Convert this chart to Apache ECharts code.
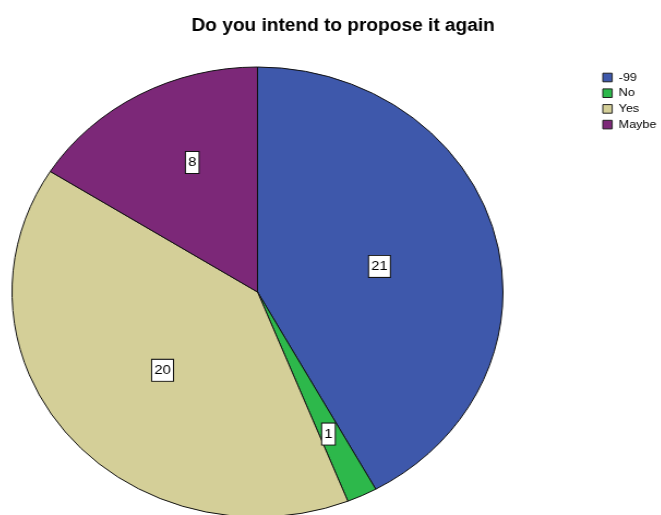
<!DOCTYPE html>
<html>
<head>
<meta charset="utf-8">
<script src="https://cdn.jsdelivr.net/npm/echarts@6/dist/echarts.min.js"></script>
<style>
  html, body { margin: 0; padding: 0; background: #fff; }
  #wrap { position: relative; width: 661px; height: 515px; overflow: hidden; }
  /* the whole chart is drawn slightly wider than tall, so the pie becomes an ellipse */
  #chart {
    position: absolute; left: 0; top: 0; width: 661px; height: 515px;
    transform-origin: 257.5px 292px; transform: scaleX(1.091);
  }
</style>
</head>
<body>
<div id="wrap"><div id="chart"></div></div>
<script>
// answer categories and their counts
const categories = ['-99', 'No', 'Yes', 'Maybe'];
const counts = [21, 1, 20, 8];
const colors = ['#3e58ab', '#2db84b', '#d4cf98', '#7c2878'];
// count label placement relative to the default inside spot:
// radial stretch factor and a clockwise turn in degrees
const labelReach = [0.993, 1.353, 1.014, 1.235];
const labelTurn = [1.5, 0.6, -2.4, 4];
const titleText = 'Do you intend to propose it again';

const CX = 257.5, CY = 292, R = 225;
const FONT = 'Liberation Sans, Arial, Helvetica, sans-serif';

const pieData = categories.map((name, i) => ({
  name: name,
  value: counts[i],
  itemStyle: { color: colors[i] }
}));

function placeLabel(p) {
  const r = p.labelRect;
  const x = r.x + r.width / 2 - CX, y = r.y + r.height / 2 - CY;
  const k = labelReach[p.dataIndex];
  const d = labelTurn[p.dataIndex] * Math.PI / 180;
  const nx = k * (x * Math.cos(d) - y * Math.sin(d));
  const ny = k * (x * Math.sin(d) + y * Math.cos(d));
  return { dx: nx - x, dy: ny - y };
}

const chart = echarts.init(document.getElementById('chart'), null, { renderer: 'canvas' });
chart.setOption({
  animation: false,
  title: {
    text: titleText,
    left: 331,
    top: 12,
    textAlign: 'center',
    textStyle: { fontFamily: FONT, fontSize: 17.5, fontWeight: 'bold', color: '#000' }
  },
  legend: {
    orient: 'vertical',
    left: 573.5,
    top: 71.5,
    padding: 0,
    itemWidth: 8.6,
    itemHeight: 8.6,
    itemGap: 3.7,
    icon: 'rect',
    itemStyle: { borderColor: '#222', borderWidth: 1 },
    textStyle: {
      fontFamily: FONT,
      fontSize: 11.5,
      lineHeight: 12,
      color: '#000',
      padding: [0, 0, 0, 1]
    },
    data: categories
  },
  series: [{
    type: 'pie',
    center: [CX, CY],
    radius: [0, R],
    startAngle: 90,
    clockwise: true,
    avoidLabelOverlap: false,
    data: pieData,
    itemStyle: { borderColor: '#111', borderWidth: 1 },
    label: {
      show: true,
      position: 'inside',
      formatter: '{c}',
      color: '#000',
      fontFamily: FONT,
      fontSize: 13.5,
      lineHeight: 14,
      backgroundColor: '#fff',
      borderColor: '#111',
      borderWidth: 1,
      padding: [4, 2, 3, 2]
    },
    labelLine: { show: false },
    labelLayout: placeLabel,
    emphasis: { disabled: true }
  }]
});
</script>
</body>
</html>
